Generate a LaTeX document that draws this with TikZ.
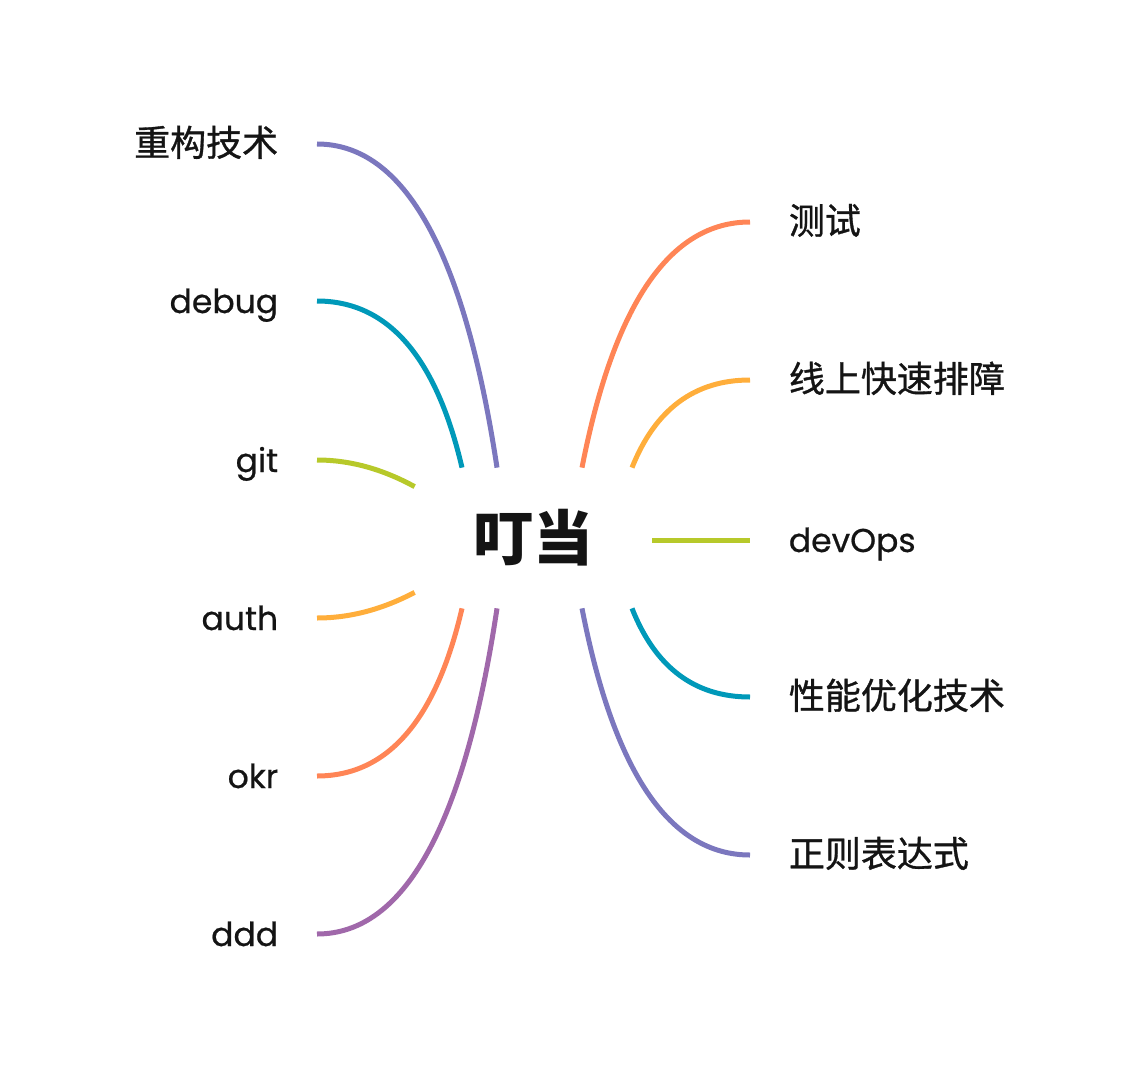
\documentclass[tikz,border=0pt]{standalone}
\usepackage{fontspec}
\setmainfont{Poppins}[FakeBold=0.6]
\newfontfamily\cjk{Noto Sans CJK SC}[FakeBold=0.9]
\newfontfamily\cjkroot{Noto Sans CJK SC}
\usetikzlibrary{positioning,calc}

\definecolor{cPurple}{RGB}{123,119,190}
\definecolor{cTeal}{RGB}{0,153,185}
\definecolor{cGreen}{RGB}{183,201,42}
\definecolor{cOrange}{RGB}{255,174,59}
\definecolor{cSalmon}{RGB}{255,133,86}
\definecolor{cViolet}{RGB}{160,104,170}

\tikzset{every picture/.style={line width=0.75pt}}
\tikzset{
  leaf/.style={inner xsep=38.5pt, inner ysep=0pt, text height=32pt, text depth=8pt,
    font=\fontsize{33}{40}\selectfont, text=black!92},
  leftleaf/.style={leaf, anchor=east},
  rightleaf/.style={leaf, anchor=west},
  zh/.style={font=\cjk\fontsize{36}{40}\selectfont},
  root/.style={minimum width=237pt, minimum height=140pt, inner sep=0pt,
    font=\cjkroot\bfseries\fontsize{60}{64}\selectfont, text=black!92},
  branch/.style={line width=5pt}
}

\begin{document}
\begin{tikzpicture}[x=1pt,y=1pt,yscale=-1,xscale=1]
\useasboundingbox (0,0) rectangle (1140,1078);

% Root
\node [root] (root) at (533.5,538) {叮当};

% Left Leaves
\node [leftleaf, zh] (l1) at (317,144) {重构技术};
\node [leftleaf] (l2) at (317,301) {debug};
\node [leftleaf] (l3) at (317,460) {git};
\node [leftleaf] (l4) at (317,618) {auth};
\node [leftleaf] (l5) at (317,776) {okr};
\node [leftleaf] (l6) at (317,934) {ddd};
% Right Leaves
\node [rightleaf, zh] (r1) at (750,222) {测试};
\node [rightleaf, zh] (r2) at (750,380) {线上快速排障};
\node [rightleaf] (r3) at (750,540) {devOps};
\node [rightleaf, zh] (r4) at (750,697) {性能优化技术};
\node [rightleaf, zh] (r5) at (750,855) {正则表达式};

% Ports on the root border
\coordinate (pl1) at ([xshift=-36.5pt]root.north);
\coordinate (pl2) at ([xshift=-71.5pt]root.north);
\coordinate (pl3) at ([yshift=19pt]root.north west);
\coordinate (pl4) at ([yshift=-16pt]root.south west);
\coordinate (pl5) at ([xshift=-71.5pt]root.south);
\coordinate (pl6) at ([xshift=-36.5pt]root.south);
\coordinate (pr1) at ([xshift=48.5pt]root.north);
\coordinate (pr2) at ([xshift=98.5pt]root.north);
\coordinate (pr3) at ([yshift=2pt]root.east);
\coordinate (pr4) at ([xshift=98.5pt]root.south);
\coordinate (pr5) at ([xshift=48.5pt]root.south);

%Curve Lines
\draw [branch, cPurple] (l1.east) .. controls ($(l1.east)!0.667!(448,144)$) and ($(pl1)!0.667!(448,144)$) .. (pl1);
\draw [branch, cTeal] (l2.east) .. controls ($(l2.east)!0.667!(423,301)$) and ($(pl2)!0.667!(423,301)$) .. (pl2);
\draw [branch, cGreen] (l3.east) .. controls ($(l3.east)!0.667!(366,460)$) and ($(pl3)!0.667!(366,460)$) .. (pl3);
\draw [branch, cOrange] (l4.east) .. controls ($(l4.east)!0.667!(366,618)$) and ($(pl4)!0.667!(366,618)$) .. (pl4);
\draw [branch, cSalmon] (l5.east) .. controls ($(l5.east)!0.667!(423,776)$) and ($(pl5)!0.667!(423,776)$) .. (pl5);
\draw [branch, cViolet] (l6.east) .. controls ($(l6.east)!0.667!(448,934)$) and ($(pl6)!0.667!(448,934)$) .. (pl6);
\draw [branch, cSalmon] (r1.west) .. controls ($(r1.west)!0.667!(630,222)$) and ($(pr1)!0.667!(630,222)$) .. (pr1);
\draw [branch, cOrange] (r2.west) .. controls ($(r2.west)!0.667!(667,380)$) and ($(pr2)!0.667!(667,380)$) .. (pr2);
%Straight Lines
\draw [branch, cGreen] (pr3) -- (r3.west);
%Curve Lines
\draw [branch, cTeal] (r4.west) .. controls ($(r4.west)!0.667!(667,697)$) and ($(pr4)!0.667!(667,697)$) .. (pr4);
\draw [branch, cPurple] (r5.west) .. controls ($(r5.west)!0.667!(630,855)$) and ($(pr5)!0.667!(630,855)$) .. (pr5);

\end{tikzpicture}
\end{document}
